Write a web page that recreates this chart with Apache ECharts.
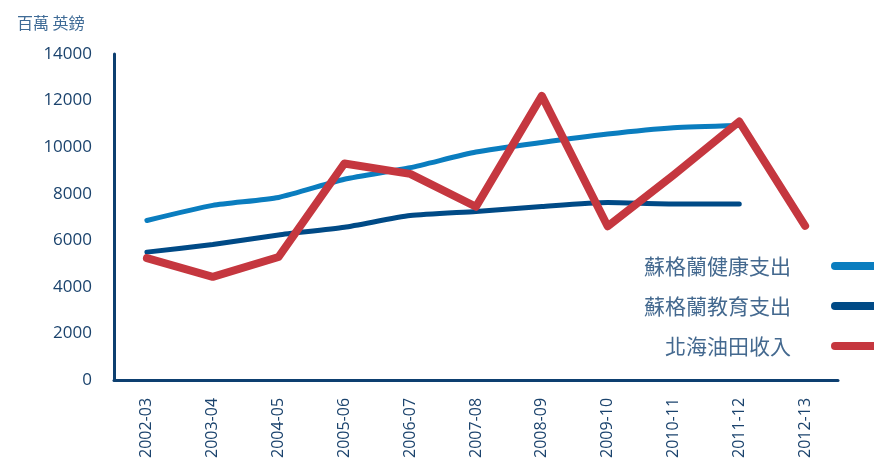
<!DOCTYPE html>
<html>
<head>
<meta charset="utf-8">
<script src="https://cdn.jsdelivr.net/npm/echarts@6/dist/echarts.min.js"></script>
<style>html,body{margin:0;padding:0;background:#fff}#c{width:874px;height:461px}</style>
</head>
<body>
<div id="c"></div>
<script>
var categories = ['2002-03','2003-04','2004-05','2005-06','2006-07','2007-08','2008-09','2009-10','2010-11','2011-12','2012-13'];
var health = [6850, 7500, 7840, 8620, 9120, 9790, 10200, 10560, 10830, 10930, null];
var education = [5490, 5820, 6230, 6560, 7060, 7240, 7450, 7620, 7560, 7560, null];
var oil = [5230, 4430, 5280, 9300, 8850, 7440, 12200, 6600, 8800, 11100, 6620];
var seriesNames = ['蘇格蘭健康支出', '蘇格蘭教育支出', '北海油田收入'];
var yUnit = '百萬 英鎊';

var chart = echarts.init(document.getElementById('c'));
var axisColor = '#0d3f70';
var labelColor = '#1b436d';
var capsule = 'path://M4,0 H46 A4,4 0 0 1 46,8 H4 A4,4 0 0 1 4,0 Z';
chart.setOption({
  animation: false,
  grid: { left: 114, right: 36, top: 54, bottom: 79, containLabel: false },
  title: {
    text: yUnit, left: 12, top: 10,
    textStyle: { fontFamily: 'Noto Sans CJK TC', fontSize: 16, fontWeight: 'normal', color: '#3f6b96' }
  },
  legend: {
    orient: 'vertical', right: -12, top: 249, align: 'right',
    itemWidth: 50, itemHeight: 8, itemGap: 16, icon: capsule,
    textStyle: { fontFamily: 'Noto Sans CJK TC', fontSize: 21, color: '#44698f', lineHeight: 24, padding: [0, 35, 0, 0] },
    data: seriesNames
  },
  xAxis: {
    type: 'category', data: categories, boundaryGap: true,
    axisLine: { show: true, lineStyle: { color: axisColor, width: 3 } },
    axisTick: { show: false },
    axisLabel: { rotate: 90, margin: 18, color: labelColor, fontFamily: 'Open Sans', fontSize: 16, interval: 0 }
  },
  yAxis: {
    type: 'value', min: 0, max: 14000, interval: 2000,
    splitLine: { show: false },
    axisLine: { show: true, lineStyle: { color: axisColor, width: 3 } },
    axisTick: { show: false },
    axisLabel: { margin: 22, color: labelColor, fontFamily: 'Open Sans', fontSize: 17, formatter: function (v) { return String(v); } }
  },
  series: [
    { name: seriesNames[0], type: 'line', data: health, showSymbol: false, smooth: 0.2,
      itemStyle: { color: '#0a7dbf' }, lineStyle: { color: '#0a7dbf', width: 5, cap: 'round' }, z: 2 },
    { name: seriesNames[1], type: 'line', data: education, showSymbol: false, smooth: 0.2,
      itemStyle: { color: '#004a86' }, lineStyle: { color: '#004a86', width: 5, cap: 'round' }, z: 3 },
    { name: seriesNames[2], type: 'line', data: oil, showSymbol: false,
      itemStyle: { color: '#c5373f' }, lineStyle: { color: '#c5373f', width: 8, cap: 'round', join: 'round' }, z: 4 }
  ]
});
</script>
</body>
</html>
